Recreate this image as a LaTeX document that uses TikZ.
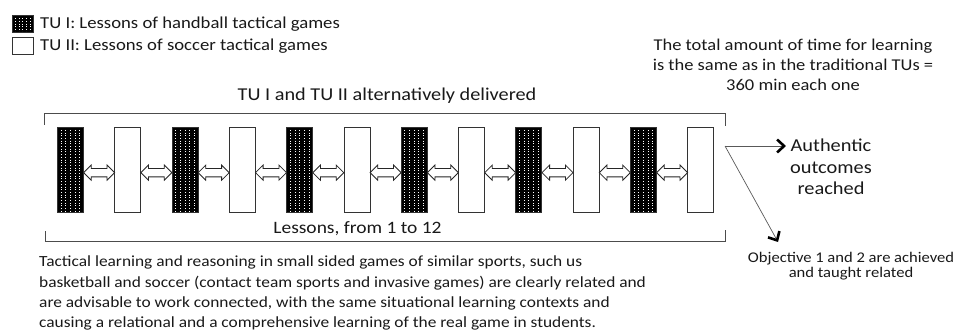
\documentclass[tikz,border=0pt]{standalone}
\usepackage{fontspec}
\setmainfont{Carlito}[FakeStretch=1.12]
\usetikzlibrary{arrows.meta,shapes.arrows,calc}

\begin{document}
\begin{tikzpicture}[x=1pt,y=-1pt,
  lesson/.style={draw=black!80, line width=0.9pt, inner sep=0pt,
    minimum width=26pt, minimum height=85pt, anchor=north west},
  handball/.style={lesson, fill=black, path picture={
    \foreach \k in {0.14,0.32,0.5,0.68,0.86}{
      \draw[white, line width=0.9pt, dash pattern=on 0.9pt off 1.8pt]
        ($(path picture bounding box.north west)!\k!(path picture bounding box.north east)$) --
        ($(path picture bounding box.south west)!\k!(path picture bounding box.south east)$);}}},
  soccer/.style={lesson, fill=white},
  keybox/.style={minimum width=20.6pt, minimum height=17pt},
  link/.style={double arrow, draw=black!85, fill=white, line width=0.8pt,
    minimum height=31pt, minimum width=14pt, inner xsep=0pt, inner ysep=3.8pt,
    double arrow head extend=3.4pt},
  bracket/.style={draw=black!70, line width=0.9pt},
  outarrow/.style={draw=black!65, line width=0.7pt,
    -{Straight Barb[length=7pt,width=13pt,line width=2.6pt,color=black]}},
  label/.style={inner sep=0pt, text=black!90}
]
\useasboundingbox (0,0) rectangle (957,331);

% legend
\node[handball, keybox] (keyA) at (12,15) {};
\node[soccer, keybox] (keyB) at (12,37) {};
\node[label, anchor=west, font=\fontsize{16.7}{20}\selectfont] (keyAt) at (40,24.5) {TU I: Lessons of handball tactical games};
\node[label, anchor=west, font=\fontsize{16.7}{20}\selectfont] (keyBt) at (40,46) {TU II: Lessons of soccer tactical games};

% note on total time
\node[label, align=center, font=\fontsize{16.5}{20}\selectfont] (total) at (793,65)
  {The total amount of time for learning\\is the same as in the traditional TUs =\\360 min each one};

% the twelve lessons, alternating
\foreach \i [evaluate=\i as \xx using 57+57.3*(\i-1)] in {1,...,12} {
  \ifodd\i \def\kind{handball}\else \def\kind{soccer}\fi
  \node[\kind] (L\i) at (\xx,126.7) {};
}
\foreach \i in {1,...,11} {
  \pgfmathtruncatemacro\j{\i+1}
  \node[link] (A\i) at ($(L\i.east)!0.5!(L\j.west)+(0,3)$) {};
}

% brackets round the sequence
\draw[bracket] (44,125) -- (44,113.3) -- (725,113.3) -- (725,126.5);
\draw[bracket] (45,231) -- (45,241.7) -- (725,241.7) -- (725,230);
\node[label, font=\fontsize{18.1}{20}\selectfont] (top) at (387,96) {TU I and TU II alternatively delivered};
\node[label, font=\fontsize{17.4}{20}\selectfont] (lessons) at (357.5,229) {Lessons, from 1 to 12};

% outcomes
\coordinate (split) at (725,146);
\node[label, align=center, font=\fontsize{18.2}{21.5}\selectfont] (auth) at (831,167)
  {Authentic\\outcomes\\reached};
\node[label, align=center, font=\fontsize{14.8}{15}\selectfont] (obj) at (851,266)
  {Objective 1 and 2 are achieved\\and taught related};
\coordinate (objtip) at (778,242);
\draw[outarrow, shorten >=4pt] (split) -- (split -| auth.west);
\draw[outarrow] (split) -- (objtip);

% explanatory paragraph
\node[label, anchor=north west, align=left, font=\fontsize{15.5}{20.3}\selectfont] (note) at (39,256)
  {Tactical learning and reasoning in small sided games of similar sports, such us\\
   basketball and soccer (contact team sports and invasive games) are clearly related and\\
   are advisable to work connected, with the same situational learning contexts and\\
   causing a relational and a comprehensive learning of the real game in students.};
\end{tikzpicture}
\end{document}
